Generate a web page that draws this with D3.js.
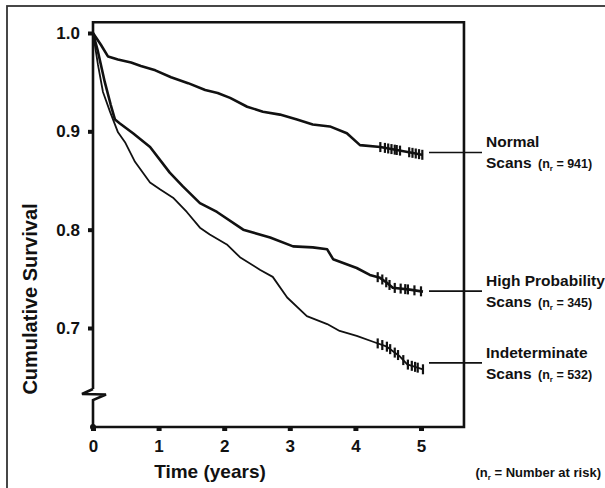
<!DOCTYPE html>
<html>
<head>
<meta charset="utf-8">
<script src="https://cdn.jsdelivr.net/npm/d3@7"></script>
<style>
  body { margin: 0; background: #fff; }
  svg { display: block; font-family: 'Liberation Sans', Arial, sans-serif; }
</style>
</head>
<body>
<script>
// DATA
const timeTicks = [0, 1, 2, 3, 4, 5];
const survTicks = [0.7, 0.8, 0.9, 1.0];

const normalT = [0, 0.12, 0.23, 0.38, 0.58, 0.73, 0.95, 1.19, 1.45, 1.71, 1.9, 2.09, 2.35, 2.59, 2.85, 3.11, 3.35, 3.61, 3.87, 4.07, 4.38, 4.88, 5.03];
const normalS = [1.0, 0.988, 0.976, 0.973, 0.970, 0.9665, 0.962, 0.955, 0.949, 0.942, 0.939, 0.934, 0.925, 0.920, 0.917, 0.912, 0.907, 0.905, 0.898, 0.886, 0.884, 0.878, 0.876];
const normalCensor = [4.38, 4.45, 4.5, 4.55, 4.6, 4.63, 4.68, 4.82, 4.87, 4.92, 4.97, 5.02];

const highT = [0, 0.076, 0.18, 0.27, 0.335, 0.41, 0.61, 0.87, 1.17, 1.37, 1.63, 1.89, 2.29, 2.7, 3.05, 3.35, 3.57, 3.66, 4.02, 4.22, 4.375, 4.48, 4.57, 4.83, 5.03];
const highS = [1.0, 0.981, 0.950, 0.927, 0.912, 0.908, 0.898, 0.884, 0.858, 0.844, 0.827, 0.818, 0.800, 0.792, 0.783, 0.782, 0.780, 0.770, 0.761, 0.754, 0.751, 0.746, 0.741, 0.739, 0.737];
const highCensor = [4.34, 4.41, 4.47, 4.52, 4.6, 4.69, 4.76, 4.8, 4.9, 5.0];

const indetT = [0, 0.076, 0.152, 0.259, 0.381, 0.488, 0.64, 0.869, 1.02, 1.22, 1.43, 1.63, 1.78, 2.04, 2.24, 2.55, 2.74, 2.96, 3.26, 3.57, 3.76, 4.02, 4.27, 4.48, 4.68, 4.79, 5.03];
const indetS = [1.0, 0.9675, 0.940, 0.920, 0.899, 0.889, 0.869, 0.848, 0.841, 0.8325, 0.818, 0.802, 0.795, 0.785, 0.772, 0.759, 0.752, 0.731, 0.712, 0.704, 0.697, 0.692, 0.686, 0.681, 0.671, 0.663, 0.658];
const indetCensor = [4.34, 4.41, 4.48, 4.53, 4.6, 4.65, 4.73, 4.8, 4.86, 4.91, 4.95, 5.03];

const groupNames = ['Normal', 'High Probability', 'Indeterminate'];
const groupN = [941, 345, 532];
const groupLabelY = [0.8785, 0.7375, 0.6645]; // where each pointer line sits

// CONFIGURATION
const width = 605;
const height = 488;
const ink = '#111';

const svg = d3.select('body')
  .append('svg')
  .attr('width', width)
  .attr('height', height);

// outer border (clipped by the page edge on the right and bottom)
svg.append('rect')
  .attr('x', 7).attr('y', 6)
  .attr('width', 640).attr('height', 520)
  .attr('fill', 'none')
  .attr('stroke', '#333')
  .attr('stroke-width', 1.8);

const xScale = d3.scaleLinear().domain([0, 5]).range([93, 421]);
const yScale = d3.scaleLinear().domain([0.7, 1.0]).range([328, 33]);

const frameLeft = xScale(0);
const frameRight = xScale(5.655);
const frameTop = yScale(1.011);
const frameBottom = 427;

// FRAME with axis break
svg.append('path')
  .attr('d', `M${frameLeft},389 V${frameTop} H${frameRight} V${frameBottom} H${frameLeft} V400 L${frameLeft + 13},394.5 L${frameLeft - 11},394 L${frameLeft},389`)
  .attr('fill', 'none')
  .attr('stroke', ink)
  .attr('stroke-width', 2.6)
  .attr('stroke-linejoin', 'miter');
svg.append('circle')
  .attr('cx', frameLeft).attr('cy', frameBottom).attr('r', 3)
  .attr('fill', ink);

// AXES
const yAxis = d3.axisLeft(yScale)
  .tickValues(survTicks)
  .tickFormat(d3.format('.1f'))
  .tickSize(5)
  .tickPadding(8);
const gy = svg.append('g')
  .attr('transform', `translate(${frameLeft},0)`)
  .call(yAxis);
gy.select('.domain').remove();
gy.selectAll('.tick line').attr('stroke', ink).attr('stroke-width', 4);
gy.selectAll('.tick text')
  .attr('fill', ink)
  .style('font-size', '17px')
  .style('font-weight', 'bold');

const xAxis = d3.axisBottom(xScale)
  .tickValues(timeTicks)
  .tickFormat(d3.format('d'))
  .tickSize(4)
  .tickPadding(9);
const gx = svg.append('g')
  .attr('transform', `translate(0,${frameBottom})`)
  .call(xAxis);
gx.select('.domain').remove();
gx.selectAll('.tick line').attr('stroke', ink).attr('stroke-width', 5);
gx.selectAll('.tick text')
  .attr('fill', ink)
  .style('font-size', '17px')
  .style('font-weight', 'bold');

svg.append('text')
  .attr('x', 210).attr('y', 478)
  .attr('text-anchor', 'middle')
  .attr('fill', ink)
  .style('font-size', '19px')
  .style('font-weight', 'bold')
  .text('Time (years)');

svg.append('text')
  .attr('transform', 'translate(37,299) rotate(-90)')
  .attr('text-anchor', 'middle')
  .attr('fill', ink)
  .style('font-size', '20px')
  .style('font-weight', 'bold')
  .text('Cumulative Survival');

// CURVES
const line = d3.line()
  .x(d => xScale(d[0]))
  .y(d => yScale(d[1]));

const curves = [
  { t: normalT, s: normalS, censor: normalCensor, w: 2.6 },
  { t: highT, s: highS, censor: highCensor, w: 2.6 },
  { t: indetT, s: indetS, censor: indetCensor, w: 1.8 }
];

curves.forEach(c => {
  const pts = c.t.map((t, i) => [t, c.s[i]]);
  svg.append('path')
    .datum(pts)
    .attr('d', line)
    .attr('fill', 'none')
    .attr('stroke', ink)
    .attr('stroke-width', c.w)
    .attr('stroke-linejoin', 'round');

  // censor marks sit on the curve at each censor time
  const surv = t => {
    for (let i = 0; i < c.t.length - 1; i++) {
      if (t >= c.t[i] && t <= c.t[i + 1]) {
        const k = (t - c.t[i]) / (c.t[i + 1] - c.t[i]);
        return c.s[i] + k * (c.s[i + 1] - c.s[i]);
      }
    }
    return c.s[c.s.length - 1];
  };
  svg.append('g')
    .selectAll('line')
    .data(c.censor)
    .enter()
    .append('line')
    .attr('x1', d => xScale(d)).attr('x2', d => xScale(d))
    .attr('y1', d => yScale(surv(d)) - 5)
    .attr('y2', d => yScale(surv(d)) + 5)
    .attr('stroke', ink)
    .attr('stroke-width', 2.2);
});

// LABELS
groupLabelY.forEach((v, i) => {
  const yy = yScale(v);
  svg.append('line')
    .attr('x1', 429).attr('x2', 482)
    .attr('y1', yy).attr('y2', yy)
    .attr('stroke', ink)
    .attr('stroke-width', 1.6);

  svg.append('text')
    .attr('x', 486).attr('y', yy - 5)
    .attr('fill', ink)
    .style('font-size', '15.5px')
    .style('font-weight', 'bold')
    .text(groupNames[i]);

  const t2 = svg.append('text')
    .attr('x', 486).attr('y', yy + 16)
    .attr('fill', ink)
    .style('font-weight', 'bold');
  t2.append('tspan').style('font-size', '15.5px').text('Scans ');
  t2.append('tspan').style('font-size', '12.5px').attr('dx', 2).text('(n');
  t2.append('tspan').style('font-size', '8px').attr('dy', 3).text('r');
  t2.append('tspan').style('font-size', '12.5px').attr('dy', -3).text(` = ${groupN[i]})`);
});

const note = svg.append('text')
  .attr('x', 601).attr('y', 477)
  .attr('text-anchor', 'end')
  .attr('fill', ink)
  .style('font-weight', 'bold')
  .style('font-size', '13px');
note.append('tspan').text('(n');
note.append('tspan').style('font-size', '8px').attr('dy', 3).text('r');
note.append('tspan').attr('dy', -3).text(' = Number at risk)');
</script>
</body>
</html>
